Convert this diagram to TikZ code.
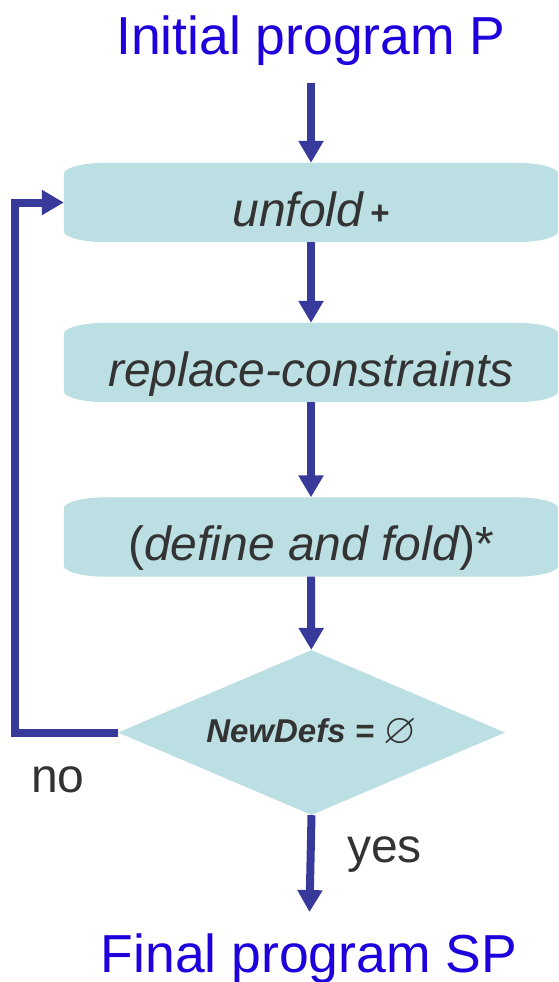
\documentclass[tikz,border=0pt]{standalone}
\usepackage{fontspec}
\setmainfont{Liberation Sans}
\usepackage{amssymb}
\usepackage{graphicx}
\usetikzlibrary{arrows.meta,shapes.geometric,backgrounds}
\definecolor{boxfill}{HTML}{BBDFE3}
\definecolor{arrowc}{HTML}{383A9B}
\definecolor{titleblue}{HTML}{1E00DC}
\definecolor{txtgray}{HTML}{333333}
\newcommand\softbox[1]{%
 \fill[boxfill] ([yshift=-11pt]#1.north west) .. controls ([yshift=-5pt]#1.north west) and ([xshift=19pt]#1.north west) .. ([xshift=42pt]#1.north west)
 -- ([xshift=-42pt]#1.north east) .. controls ([xshift=-19pt]#1.north east) and ([yshift=-5pt]#1.north east) .. ([yshift=-11pt]#1.north east)
 -- ([yshift=11pt]#1.south east) .. controls ([yshift=5pt]#1.south east) and ([xshift=-19pt]#1.south east) .. ([xshift=-42pt]#1.south east)
 -- ([xshift=42pt]#1.south west) .. controls ([xshift=19pt]#1.south west) and ([yshift=5pt]#1.south west) .. ([yshift=11pt]#1.south west) -- cycle;}
\begin{document}
\begin{tikzpicture}[x=1pt,y=-1pt,
  stepbox/.style={rectangle, minimum width=494pt, inner xsep=0pt, inner ysep=0pt, text height=63pt, text depth=16pt, text=txtgray, font=\fontsize{48}{48}\selectfont\itshape},
  decision/.style={diamond, aspect=2.345, minimum width=387pt, minimum height=165pt, inner sep=0pt, fill=boxfill, text=txtgray, font=\fontsize{33}{33}\selectfont\bfseries\itshape},
  titletext/.style={text=titleblue, font=\fontsize{53.5}{53.5}\selectfont, inner sep=0pt, anchor=base},
  lab/.style={text=txtgray, font=\fontsize{48}{48}\selectfont, inner sep=0pt, anchor=base west},
  flow/.style={draw=arrowc, line width=8pt, -{Triangle[width=24pt,length=22pt]}},
]
\useasboundingbox (0,0) rectangle (558,982);
\node[titletext] (ttl) at (311,55) {Initial program P};
\node[stepbox] (b1) at (311,202.5) {unfold\hspace{7pt}\raisebox{2pt}{\fontsize{33}{33}\selectfont\upshape\bfseries +}};
\node[stepbox] (b2) at (311,362.5) {replace-constraints};
\node[stepbox] (b3) at (311,537) {{\upshape(}define and fold{\upshape)*}};
\node[decision] (dia) at (311.5,732.5) {NewDefs = \raisebox{-1pt}{\scalebox{1.3}{$\varnothing$}}};
\node[titletext] (fin) at (309,972) {Final program SP};
\node[lab] (no) at (31,792) {no};
\node[lab] (yes) at (347,862) {yes};
\begin{pgfonlayer}{background}
\softbox{b1}
\softbox{b2}
\softbox{b3}
\end{pgfonlayer}
\draw[flow, shorten <=17pt] (ttl.south) -- (b1.north);
\draw[flow] (b1) -- (b2);
\draw[flow] (b2) -- (b3);
\draw[flow] (b3) -- (dia);
\draw[flow, shorten >=21pt] (dia.south) -- (fin.north);
\draw[flow] (dia.west) -- ++(-102.5,0) |- (b1.west);
\end{tikzpicture}
\end{document}
